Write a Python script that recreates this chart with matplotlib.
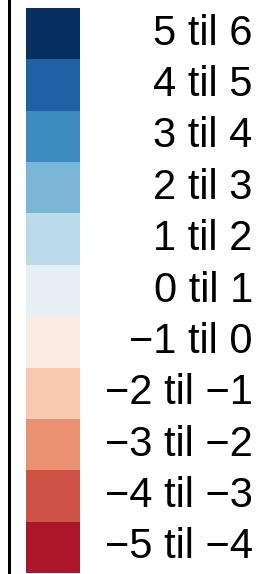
import matplotlib
matplotlib.use("Agg")
import matplotlib.pyplot as plt
import numpy as np

# legend classes, bottom to top
lower = [-5, -4, -3, -2, -1, 0, 1, 2, 3, 4, 5]
upper = [-4, -3, -2, -1, 0, 1, 2, 3, 4, 5, 6]
labels = [("%d til %d" % (a, b)).replace("-", "\u2212") for a, b in zip(lower, upper)]
# 12-step RdBu scale for -6..6, lowest class not shown
colors = plt.cm.RdBu(np.linspace(0, 1, 12))[1:]

fig = plt.figure(figsize=(2.67, 5.74), dpi=100)
ax = fig.add_axes([0, 0, 1, 1])

pos = np.arange(len(lower))
ax.barh(pos, width=1, left=0, height=1, color=colors, edgecolor="none")

for p, lab in zip(pos, labels):
    ax.text(4.20, p, lab, ha="right", va="center", fontsize=30,
            family="Liberation Sans", color="black")

# frame line on the left
ax.axvline(-0.315, color="black", linewidth=2.16)

ax.set_xlim(-26 / 54, (267 - 26) / 54)
ax.set_ylim(-0.5 - 1 / 51.36, 10.5 + 8 / 51.36)
ax.axis("off")

fig.savefig("out.png", dpi=100)
